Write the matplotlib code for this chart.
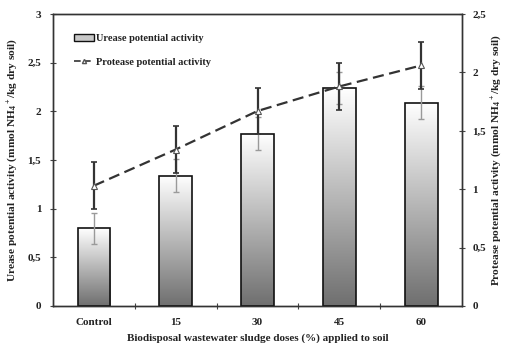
import numpy as np
import matplotlib
matplotlib.use("Agg")
import matplotlib.pyplot as plt
from matplotlib.patches import Patch
from matplotlib.lines import Line2D
from matplotlib.ticker import FuncFormatter
from matplotlib.colors import LinearSegmentedColormap

# Data
doses = ["Control", "15", "30", "45", "60"]
urease = [0.80, 1.34, 1.77, 2.24, 2.09]
urease_err = [0.16, 0.17, 0.17, 0.16, 0.17]
protease = [1.03, 1.34, 1.67, 1.88, 2.06]
protease_err = [0.20, 0.20, 0.20, 0.20, 0.20]

plt.rcParams["font.family"] = ["Liberation Serif", "DejaVu Serif"]
plt.rcParams["font.weight"] = "bold"
plt.rcParams["mathtext.fontset"] = "custom"
plt.rcParams["mathtext.rm"] = "Liberation Serif:bold"
plt.rcParams["mathtext.bf"] = "Liberation Serif:bold"
plt.rcParams["mathtext.it"] = "Liberation Serif:bold:italic"
plt.rcParams["mathtext.default"] = "bf"
text_col = "#222222"

fig = plt.figure(figsize=(5.07, 3.43), dpi=100)
ax = fig.add_axes([0.1045, 0.108, 0.807, 0.851])
ax2 = ax.twinx()

x = np.arange(len(doses))
bars = ax.bar(x, urease, width=0.4, facecolor="none", edgecolor="#111111",
              linewidth=1.2, zorder=3)

# vertical white-to-grey gradient inside each bar
cmap = LinearSegmentedColormap.from_list("g", ["#6f6f6f", "#ffffff"])
grad = np.linspace(0, 1, 256).reshape(-1, 1)
for b in bars:
    x0, w, h = b.get_x(), b.get_width(), b.get_height()
    im = ax.imshow(grad, cmap=cmap, origin="lower", aspect="auto",
                   extent=[x0, x0 + w, 0, h], zorder=2)
    im.set_clip_path(b)

ax.errorbar(x, urease, yerr=urease_err, fmt="none", ecolor="#9a9a9a",
            elinewidth=1.0, capsize=2, capthick=1.0, zorder=4)

ax2.errorbar(x, protease, yerr=protease_err, fmt="none", ecolor="#333333",
             elinewidth=1.6, capsize=2, capthick=1.2, zorder=5)
ax2.plot(x, protease, color="#333333", linewidth=1.6, dashes=(5, 2.5),
         marker="^", markersize=4, markerfacecolor="white",
         markeredgecolor="#555555", markeredgewidth=0.8, zorder=6)

ax.set_xlim(-0.5, 4.5)
ax.set_ylim(0, 3)
ax2.set_ylim(0, 2.5)
ax.set_yticks(np.arange(0, 3.01, 0.5))
ax2.set_yticks(np.arange(0, 2.51, 0.5))

fmt = FuncFormatter(lambda v, p: ("%g" % v).replace(".", ","))
ax.yaxis.set_major_formatter(fmt)
ax2.yaxis.set_major_formatter(fmt)

ax.set_xticks(x)
ax.set_xticklabels(doses)
ax.set_xticks(np.arange(0.5, 4.0, 1.0), minor=True)
ax.tick_params(axis="x", which="major", length=0, pad=9,
               labelsize=8, colors=text_col)
ax.tick_params(axis="x", which="minor", direction="inout", length=5,
               width=0.8, color="#444444")
ax.tick_params(axis="y", direction="inout", length=5, width=0.8,
               labelsize=8, color="#444444", labelcolor=text_col, pad=6)
ax2.tick_params(axis="y", direction="inout", length=5, width=0.8,
                labelsize=8, color="#444444", labelcolor=text_col, pad=5)

for a in (ax, ax2):
    for s in a.spines.values():
        s.set_linewidth(1.0)
        s.set_color("#333333")

ax.set_xlabel("Biodisposal wastewater sludge doses (%) applied to soil",
              fontsize=8, fontweight="bold", color=text_col, labelpad=4)
ax.set_ylabel(r"Urease potential activity (mmol NH$_4$$^+$/kg dry soil)",
              fontsize=8.2, fontweight="bold", color=text_col)
ax2.set_ylabel(r"Protease potential activity (mmol NH$_4$$^+$/kg dry soil)",
               fontsize=8.2, fontweight="bold", color=text_col)
ax.yaxis.set_label_coords(-0.098, 0.5)
ax2.yaxis.set_label_coords(1.084, 0.5)
ax.yaxis.label.set_va("center")
ax2.yaxis.label.set_va("center")

handles = [
    Patch(facecolor="#c8c8c8", edgecolor="#111111", linewidth=1.0),
    Line2D([0], [0], color="#333333", linewidth=1.2, dashes=(4, 2),
           marker="^", markersize=3, markerfacecolor="white",
           markeredgecolor="#555555"),
]
leg = ax.legend(handles, ["Urease potential activity",
                          "Protease potential activity"],
                loc="upper left", bbox_to_anchor=(0.04, 0.945),
                frameon=False, fontsize=7.5, labelspacing=1.4,
                handlelength=2.0, handleheight=0.6, handletextpad=0.2,
                borderaxespad=0)
for t in leg.get_texts():
    t.set_color(text_col)
    t.set_fontweight("bold")

fig.savefig("out.png", dpi=100)
